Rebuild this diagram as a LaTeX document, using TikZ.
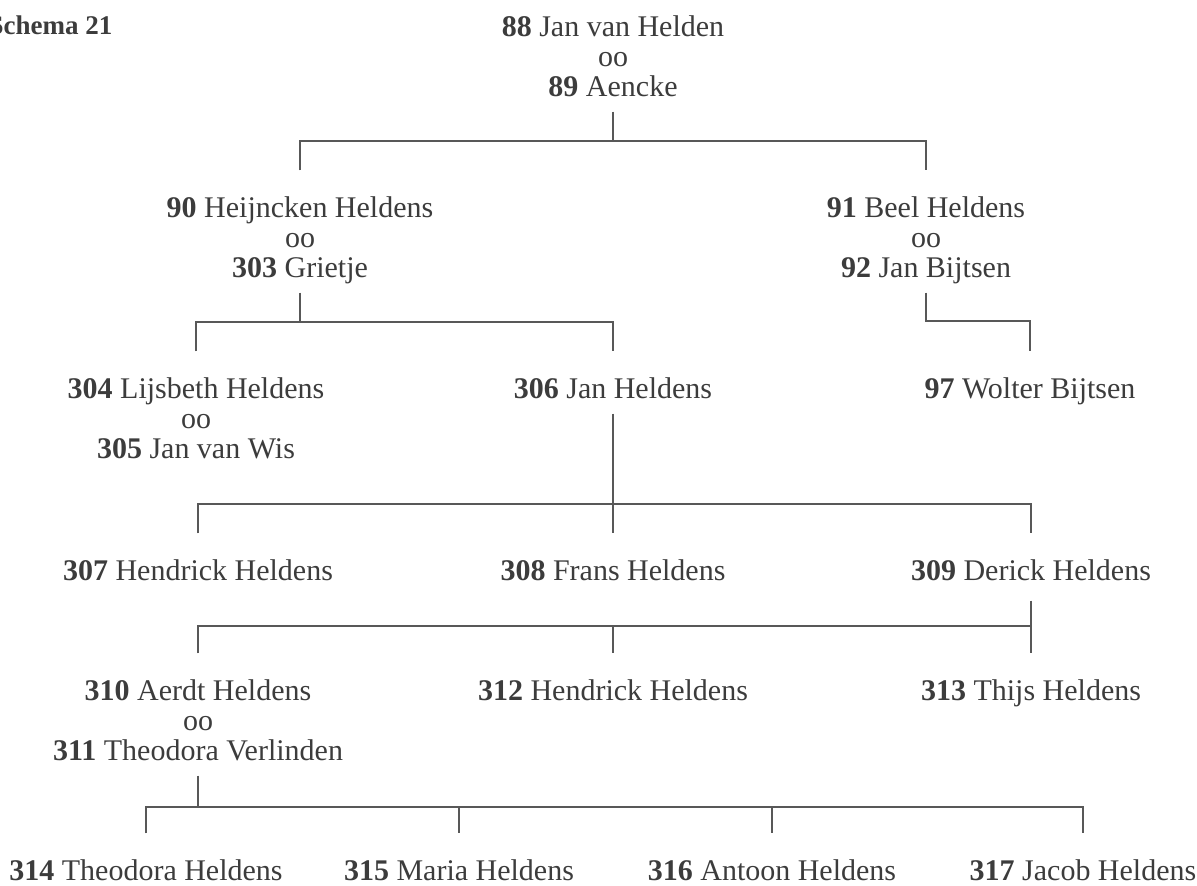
\documentclass[tikz,border=0pt]{standalone}
\usepackage{fontspec}
\setmainfont{Liberation Serif}
\usepackage{tikz}
\definecolor{ink}{HTML}{3C3C3C}
\definecolor{linegray}{HTML}{585858}

\begin{document}
\begin{tikzpicture}[x=0.5pt,y=-0.5pt,node distance=15pt,color=linegray,
                    line width=0.7pt,font=\fontsize{15}{18}\selectfont]
  \tikzstyle{person}=[anchor=base, inner sep=0pt, text=ink, text height=10pt, text depth=3pt]
  \tikzstyle{wed}=[person]
  \tikzstyle{leaf}=[person, text depth=0pt]
  \tikzstyle{parent}=[shorten <=4.5pt]
  \tikzstyle{kids}=[shorten <=13pt, shorten >=13pt]
  \tikzstyle{drop}=[shorten >=13pt]

  \useasboundingbox (0,0) rectangle (1197,885);

  \node[anchor=base east, inner sep=0pt, text=ink,
        font=\fontsize{13.5}{16}\selectfont\bfseries] (title) at (113,34) {Schema 21};

  \node[person] (n88) at (613,36)      {\textbf{88} Jan van Helden};
  \node[wed]    (m88) [below of=n88]   {oo};
  \node[person] (n89) [below of=m88]   {\textbf{89} Aencke};

  \node[person] (n90) at (300,217)     {\textbf{90} Heijncken Heldens};
  \node[wed]    (m90) [below of=n90]   {oo};
  \node[person] (n303) [below of=m90]  {\textbf{303} Grietje};
  \node[person] (n91) at (926,217)     {\textbf{91} Beel Heldens};
  \node[wed]    (m91) [below of=n91]   {oo};
  \node[person] (n92) [below of=m91]   {\textbf{92} Jan Bijtsen};

  \node[person] (n304) at (196,398)    {\textbf{304} Lijsbeth Heldens};
  \node[wed]    (m304) [below of=n304] {oo};
  \node[person] (n305) [below of=m304] {\textbf{305} Jan van Wis};
  \node[person] (n306) at (613,398)    {\textbf{306} Jan Heldens};
  \node[person] (n97) at (1030,398)    {\textbf{97} Wolter Bijtsen};

  \node[person] (n307) at (198,580)    {\textbf{307} Hendrick Heldens};
  \node[person] (n308) at (613,580)    {\textbf{308} Frans Heldens};
  \node[person] (n309) at (1031,580)   {\textbf{309} Derick Heldens};

  \node[person] (n310) at (198,700)    {\textbf{310} Aerdt Heldens};
  \node[wed]    (m310) [below of=n310] {oo};
  \node[person] (n311) [below of=m310] {\textbf{311} Theodora Verlinden};
  \node[person] (n312) at (613,700)    {\textbf{312} Hendrick Heldens};
  \node[person] (n313) at (1031,700)   {\textbf{313} Thijs Heldens};

  \node[leaf] (n314) at (146,880)      {\textbf{314} Theodora Heldens};
  \node[leaf] (n315) at (459,880)      {\textbf{315} Maria Heldens};
  \node[leaf] (n316) at (772,880)      {\textbf{316} Antoon Heldens};
  \node[leaf] (n317) at (1083,880)     {\textbf{317} Jacob Heldens};

  % junctions of the family bars
  \coordinate (bar0)  at (613,141);
  \coordinate (bar1)  at (300,322);
  \coordinate (bar1b) at (1030,321);
  \coordinate (bar2)  at (613,504);
  \coordinate (bar3)  at (1031,626);
  \coordinate (bar4)  at (198,807);

  \draw[parent] (n89) -- (bar0);
  \draw[kids] (n90) |- (bar0) -| (n91);
  \draw[parent] (n303) -- (bar1);
  \draw[kids] (n304) |- (bar1) -| (n306);
  \draw[parent,drop] (n92) |- (bar1b) -- (n97);
  \draw[parent,drop] (n306) -- (n308);
  \draw[kids] (n307) |- (bar2) -| (n309);
  \draw[shorten <=7pt,drop] (n309) -- (n313);
  \draw[shorten <=13pt] (n310) |- (bar3);
  \draw[drop] (bar3 -| n312) -- (n312);
  \draw[parent] (n311) -- (bar4);
  \draw[kids] (n314) |- (bar4) -| (n317);
  \foreach \k in {n315,n316}
    \draw[drop] (bar4 -| \k) -- (\k);
\end{tikzpicture}
\end{document}
